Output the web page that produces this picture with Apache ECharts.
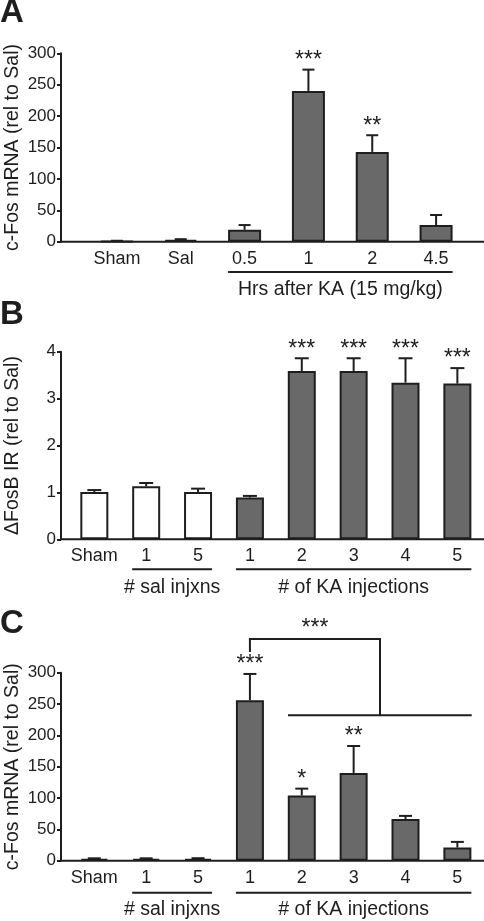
<!DOCTYPE html>
<html><head><meta charset="utf-8">
<script src="https://cdn.jsdelivr.net/npm/echarts@6/dist/echarts.min.js"></script>
<style>html,body{margin:0;padding:0;background:#fff}#c{width:484px;height:921px}</style>
</head><body><div id="c"></div>
<script>
// ---- Data ----
const catsA = ['Sham', 'Sal', '0.5', '1', '2', '4.5'];
const meanA = [1, 3, 19, 240, 143, 26.5];
const errA = [0.5, 1, 7.5, 34, 26.5, 16];
const starsA = ['', '', '', '***', '**', ''];
const groupA = ['ctl', 'ctl', 'ka', 'ka', 'ka', 'ka'];
const yTicksA = [0, 50, 100, 150, 200, 250, 300];

const catsB = ['Sham', '1', '5', '1', '2', '3', '4', '5'];
const meanB = [1.01, 1.13, 1.01, 0.89, 3.59, 3.59, 3.34, 3.32];
const errB = [0.04, 0.07, 0.07, 0.035, 0.27, 0.27, 0.52, 0.33];
const starsB = ['', '', '', '', '***', '***', '***', '***'];
const groupB = ['sham', 'sal', 'sal', 'ka', 'ka', 'ka', 'ka', 'ka'];
const yTicksB = [0, 1, 2, 3, 4];

const catsC = ['Sham', '1', '5', '1', '2', '3', '4', '5'];
const meanC = [3, 3, 3, 256, 104, 140, 66.5, 21];
const errC = [0.8, 0.8, 1, 42, 11, 43, 5, 9];
const starsC = ['', '', '', '***', '*', '**', '', ''];
const groupC = ['sham', 'sal', 'sal', 'ka', 'ka', 'ka', 'ka', 'ka'];
const yTicksC = [0, 50, 100, 150, 200, 250, 300];

const titles = { A: 'c-Fos mRNA (rel to Sal)', B: '\u0394FosB IR (rel to Sal)', C: 'c-Fos mRNA (rel to Sal)' };
const groupLabels = { A: ['Hrs after KA (15 mg/kg)'], B: ['# sal injxns', '# of KA injections'], C: ['# sal injxns', '# of KA injections'] };

// ---- Style / layout ----
const FONT = "'Liberation Sans', Arial, Helvetica, sans-serif";
const INK = '#1e1e1e';
const GRAY = '#696969';
const grids = [
  { left: 85, top: 53.3, width: 383, height: 188.4, yOff: 24, barW: 33, cap: 12 },
  { left: 68.4, top: 351.7, width: 414.9, height: 187.6, yOff: 7.4, barW: 28, cap: 14 },
  { left: 68.4, top: 672.7, width: 414.9, height: 188, yOff: 7.4, barW: 28, cap: 13 }
];
const fill = g => (g === 'ka' || g === 'ctl') ? GRAY : '#ffffff';

const chart = echarts.init(document.getElementById('c'), null, { renderer: 'canvas' });

function xAxisFor(i, cats) {
  return {
    type: 'category', gridIndex: i, data: cats.map((c, k) => String(k)),
    axisLine: { show: false }, axisTick: { show: false }, splitLine: { show: false },
    axisLabel: { interval: 0, formatter: (v, k) => cats[k], fontFamily: FONT, fontSize: 18, color: INK, margin: 8 }
  };
}
function yAxisFor(i, ticks, name) {
  return {
    type: 'value', gridIndex: i, min: ticks[0], max: ticks[ticks.length - 1],
    interval: ticks[1] - ticks[0], offset: grids[i].yOff,
    axisLine: { show: true, lineStyle: { color: INK, width: 2 } },
    axisTick: { show: true, length: 4, lineStyle: { color: INK, width: 2 } },
    splitLine: { show: false },
    axisLabel: { fontFamily: FONT, fontSize: 17, color: INK, margin: 5 },
    name: name, nameLocation: 'middle', nameRotate: 90, nameGap: 38, nameMoveOverlap: false,
    nameTextStyle: { fontFamily: FONT, fontSize: 19.5, color: INK }
  };
}
function barSeries(i, means, groups) {
  return {
    type: 'bar', xAxisIndex: i, yAxisIndex: i, barWidth: grids[i].barW,
    data: means.map((m, k) => ({ value: m, itemStyle: { color: fill(groups[k]) } })),
    itemStyle: { borderColor: INK, borderWidth: 2 }, animation: false, z: 2
  };
}
function errSeries(i, means, errs, stars) {
  const cap = grids[i].cap;
  return {
    type: 'custom', xAxisIndex: i, yAxisIndex: i, z: 3, animation: false, clip: false,
    data: means.map((m, k) => [k, m, errs[k]]),
    renderItem: (params, api) => {
      const k = api.value(0), m = api.value(1), e = api.value(2);
      const p0 = api.coord([k, m]), p1 = api.coord([k, m + e]);
      const ch = [
        { type: 'line', shape: { x1: p0[0], y1: p0[1], x2: p1[0], y2: p1[1] }, style: { stroke: INK, lineWidth: 2 } },
        { type: 'line', shape: { x1: p1[0] - cap / 2, y1: p1[1], x2: p1[0] + cap / 2, y2: p1[1] }, style: { stroke: INK, lineWidth: 2 } }
      ];
      if (stars[k]) ch.push({ type: 'text', style: { text: stars[k], x: p1[0], y: p1[1] - 9, align: 'center', verticalAlign: 'middle', font: '23px ' + FONT, fill: INK } });
      return { type: 'group', children: ch };
    }
  };
}

chart.setOption({
  animation: false,
  grid: grids.map(g => ({ left: g.left, top: g.top, width: g.width, height: g.height, containLabel: false, outerBoundsMode: 'none' })),
  xAxis: [xAxisFor(0, catsA), xAxisFor(1, catsB), xAxisFor(2, catsC)],
  yAxis: [yAxisFor(0, yTicksA, titles.A), yAxisFor(1, yTicksB, titles.B), yAxisFor(2, yTicksC, titles.C)],
  series: [
    barSeries(0, meanA, groupA), errSeries(0, meanA, errA, starsA),
    barSeries(1, meanB, groupB), errSeries(1, meanB, errB, starsB),
    barSeries(2, meanC, groupC), errSeries(2, meanC, errC, starsC)
  ]
});

// ---- Decorations (axis baselines, group underlines, labels, letters, bracket) ----
const gfx = [];
const line = (x1, y1, x2, y2) => gfx.push({ type: 'line', shape: { x1, y1, x2, y2 }, style: { stroke: INK, lineWidth: 2 }, z: 10 });
const text = (t, x, y, size, bold, align) => gfx.push({ type: 'text', style: { text: t, x, y, align: align || 'center', verticalAlign: 'middle', font: (bold ? 'bold ' : '') + size + 'px ' + FONT, fill: INK }, z: 10 });
const px = (gi, k) => chart.convertToPixel({ gridIndex: gi }, [k, 0]);

grids.forEach((g, gi) => {
  const y0 = g.top + g.height;
  line(g.left - g.yOff, y0, 484, y0);
});
// underlines
function under(gi, a, b, y, label, ly) {
  const w = grids[gi].barW / 2;
  const xa = px(gi, a)[0] - w, xb = px(gi, b)[0] + w;
  line(xa, y, xb, y);
  text(label, (xa + xb) / 2, ly, 19.5, false);
}
under(0, 2, 5, 272, groupLabels.A[0], 290);
under(1, 1, 2, 569.3, groupLabels.B[0], 587.3);
under(1, 3, 7, 569.3, groupLabels.B[1], 587.3);
under(2, 1, 2, 892.7, groupLabels.C[0], 910);
under(2, 3, 7, 892.7, groupLabels.C[1], 910);
// letters
text('A', 0, 12.5, 33, true, 'left');
text('B', 0, 314.5, 33, true, 'left');
text('C', 0, 624, 33, true, 'left');
// bracket in C
const xk1 = px(2, 3)[0];
line(xk1, 652, xk1, 639);
line(xk1 - 1, 639, 380, 639);
line(380, 638, 380, 715.3);
line(288, 715.3, 471.7, 715.3);
text('***', 315, 629, 23, false);

chart.setOption({ graphic: gfx });
</script></body></html>
